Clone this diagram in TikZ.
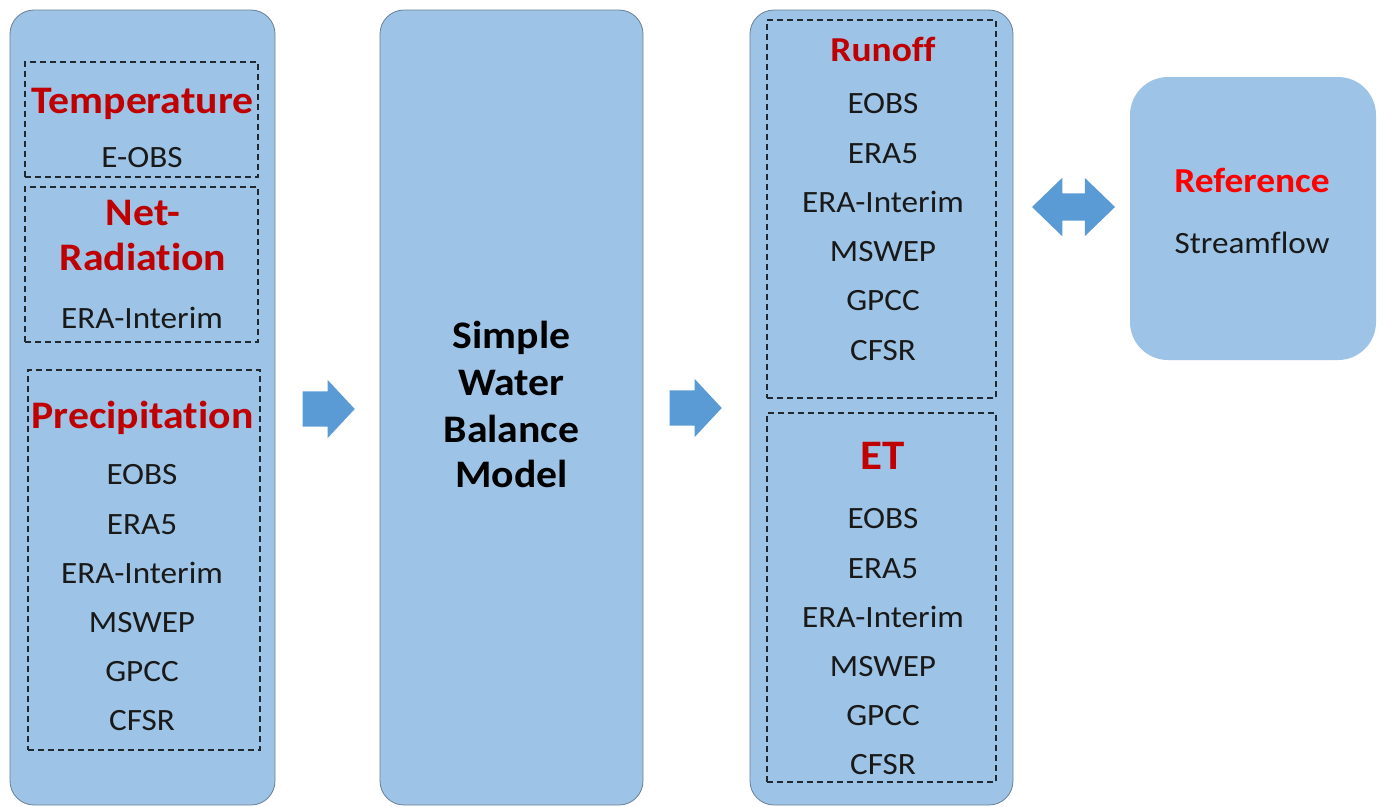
\documentclass[tikz,border=0pt]{standalone}
\usepackage{fontspec}
\setmainfont{Carlito}[Ligatures=NoCommon, FakeStretch=1.07]
\usetikzlibrary{shapes.arrows}
\definecolor{boxblue}{HTML}{9DC3E6}
\definecolor{boxline}{HTML}{6A7F94}
\definecolor{arrowblue}{HTML}{5B9BD5}
\definecolor{hdred}{HTML}{C00000}
\definecolor{refred}{HTML}{FF0000}
\definecolor{dashgray}{HTML}{202830}
\tikzset{
  bigbox/.style={draw=boxline, line width=0.8pt, fill=boxblue, rounded corners=24pt, inner sep=0pt},
  refbox/.style={fill=boxblue, rounded corners=38pt, inner sep=0pt},
  dashbox/.style={draw=dashgray, line width=1.4pt, dash pattern=on 6pt off 4pt, inner sep=0pt},
  hd/.style={anchor=base, font=\fontsize{39}{46}\selectfont\bfseries, text=hdred, inner sep=0pt},
  hdsm/.style={anchor=base, font=\fontsize{35}{42}\selectfont\bfseries, text=hdred, inner sep=0pt},
  mdl/.style={anchor=base, font=\fontsize{39}{44}\selectfont\bfseries, text=black, inner sep=0pt},
  itm/.style={anchor=base, font=\fontsize{31}{36}\selectfont, text=black!90, inner sep=0pt},
  blockarrow/.style={single arrow, fill=arrowblue, inner sep=0pt, text height=35pt, text depth=0pt, text width=0pt, single arrow head extend=11.5pt, single arrow tip angle=94, minimum height=52pt, anchor=tip},
  dblarrow/.style={double arrow, fill=arrowblue, inner sep=0pt, text height=27pt, text depth=0pt, text width=0pt, double arrow head extend=15.5pt, double arrow tip angle=88, minimum height=83pt}
}
\begin{document}
\begin{tikzpicture}[x=1pt,y=-1pt]
\useasboundingbox (0,0) rectangle (1383,806);
% big boxes
\node[bigbox, minimum width=265pt, minimum height=795pt] (inbox) at (142.5,407.5) {};
\node[bigbox, minimum width=263pt, minimum height=795pt] (model) at (511.5,407.5) {};
\node[bigbox, minimum width=263pt, minimum height=795pt] (outbox) at (881.5,407.5) {};
\node[refbox, minimum width=246pt, minimum height=283pt] (refbox) at (1253,218.5) {};
% dashed boxes left
\node[dashbox, minimum width=233pt, minimum height=115pt] (tbox) at (141.5,119.5) {};
\node[dashbox, minimum width=233pt, minimum height=155pt] (nbox) at (141.5,264.5) {};
\node[dashbox, minimum width=232pt, minimum height=380pt] (pbox) at (144,560) {};
% dashed boxes right
\node[dashbox, minimum width=229pt, minimum height=378pt] (rbox) at (881.5,209) {};
\node[dashbox, minimum width=229pt, minimum height=369pt] (ebox) at (881.5,597.5) {};
% left texts
\node[hd] (temp) at (142.5,113) {Temperature};
\node[itm] (t1) at (142,167) {E-OBS};
\node[hd] (net1) at (143,225) {Net-};
\node[hd] (net2) at (143,270) {Radiation};
\node[itm] (n1) at (142,328) {ERA-Interim};
\node[hd] (prec) at (142.5,428) {Precipitation};
\node[itm] (p1) at (142,484) {EOBS};
\node[itm] (p2) at (142,534) {ERA5};
\node[itm] (p3) at (142,583) {ERA-Interim};
\node[itm] (p4) at (142,632) {MSWEP};
\node[itm] (p5) at (142,681) {GPCC};
\node[itm] (p6) at (142,730) {CFSR};
% model texts
\node[mdl] (m1) at (511.5,348) {Simple};
\node[mdl] (m2) at (511.5,395) {Water};
\node[mdl] (m3) at (511.5,442) {Balance};
\node[mdl] (m4) at (511.5,487) {Model};
% right texts
\node[hdsm] (runoff) at (883,61.5) {Runoff};
\node[itm] (r1) at (883,113) {EOBS};
\node[itm] (r2) at (883,163) {ERA5};
\node[itm] (r3) at (883,212) {ERA-Interim};
\node[itm] (r4) at (883,261) {MSWEP};
\node[itm] (r5) at (883,310) {GPCC};
\node[itm] (r6) at (883,360) {CFSR};
\node[anchor=base, font=\fontsize{42}{50}\selectfont\bfseries, text=hdred, inner sep=0pt] (et) at (883,469) {ET};
\node[itm] (e1) at (883,528.5) {EOBS};
\node[itm] (e2) at (883,578.5) {ERA5};
\node[itm] (e3) at (883,627.5) {ERA-Interim};
\node[itm] (e4) at (883,676.5) {MSWEP};
\node[itm] (e5) at (883,725.5) {GPCC};
\node[itm] (e6) at (883,774.5) {CFSR};
% reference texts
\node[hdsm, text=refred] (refhd) at (1252,192.5) {Reference};
\node[itm] (sf) at (1252,253) {Streamflow};
% arrows
\node[blockarrow] (a1) at (355,409) {};
\node[blockarrow] (a2) at (722,408) {};
\node[dblarrow] (a3) at (1073.5,207) {};
\end{tikzpicture}
\end{document}
